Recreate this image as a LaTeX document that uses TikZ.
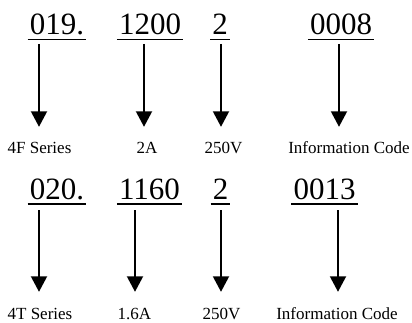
\documentclass[tikz,border=0pt]{standalone}
\usepackage{fontspec}
\setmainfont{Liberation Serif}
\usetikzlibrary{arrows.meta}
\begin{document}
\begin{tikzpicture}[x=1pt,y=-1pt,
  num/.style={anchor=base, inner xsep=2pt, inner ysep=0pt, font=\fontsize{31}{31}\selectfont},
  lab/.style={anchor=base, inner sep=0pt, text height=12pt, text depth=4pt, font=\fontsize{17}{17}\selectfont},
  uline/.style={line width=1.7pt},
  arr/.style={line width=1.9pt, -{Triangle[width=16pt,length=15.5pt]}, shorten >=15pt}]
\useasboundingbox (0,0) rectangle (412,323);
% top row
\node[num] (n1) at (57,35) {019.};
\node[num] (n2) at (150,35) {1200};
\node[num] (n3) at (220,35) {2};
\node[num] (n4) at (341,35) {0008};
\foreach \n in {n1,n2,n3,n4}
  \draw[uline] ([yshift=-4.5pt]\n.base west) -- ([yshift=-4.5pt]\n.base east);
\node[lab] (l1) at (39.5,154) {4F Series};
\node[lab] (l2) at (147,154) {2A};
\node[lab] (l3) at (223.5,154) {250V};
\node[lab] (l4) at (349,154) {Information Code};
\coordinate (a1) at (39,44);
\coordinate (a2) at (144,44);
\coordinate (a3) at (221,44);
\coordinate (a4) at (339,44);
\foreach \i in {1,2,3,4}
  \draw[arr] (a\i) -- (a\i |- l\i.north);
% bottom row
\node[num] (m1) at (57,200) {020.};
\node[num] (m2) at (149.5,200) {1160};
\node[num] (m3) at (220.5,200) {2};
\node[num] (m4) at (324.5,200) {0013};
\foreach \n in {m1,m2,m3,m4}
  \draw[uline] ([yshift=-4pt]\n.base west) -- ([yshift=-4pt]\n.base east);
\node[lab] (k1) at (40,319) {4T Series};
\node[lab] (k2) at (134.5,319) {1.6A};
\node[lab] (k3) at (221.5,319) {250V};
\node[lab] (k4) at (337,319) {Information Code};
\coordinate (b1) at (39,210);
\coordinate (b2) at (135,210);
\coordinate (b3) at (221,210);
\coordinate (b4) at (338,210);
\foreach \i in {1,2,3,4}
  \draw[arr] (b\i) -- (b\i |- k\i.north);
\end{tikzpicture}
\end{document}
